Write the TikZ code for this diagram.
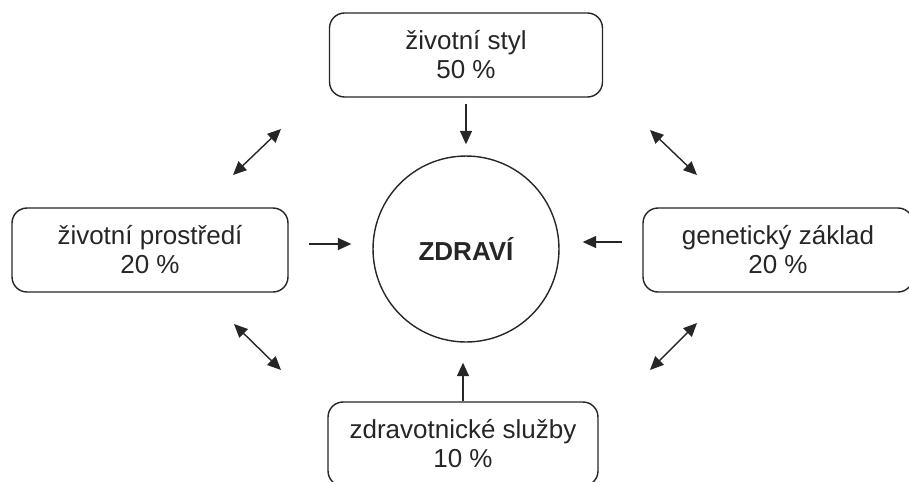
\documentclass[tikz,border=0pt]{standalone}
\usepackage{fontspec}
\setmainfont{Liberation Sans}
\usetikzlibrary{arrows.meta}

\begin{document}
\begin{tikzpicture}[x=0.02cm, y=-0.02cm, line width=0.8pt, draw=black!85,
    arr/.style={-{Triangle[length=0.27cm,width=0.24cm]}},
    darr/.style={{Triangle[length=0.27cm,width=0.24cm]}-{Triangle[length=0.27cm,width=0.24cm]}}]

        \useasboundingbox (0,0) rectangle (909,481);

        \begin{scope}[every node/.style={draw, rounded corners=0.3cm, minimum height=1.68cm,
            align=center, text=black!85, font=\fontsize{14.8}{16.5}\selectfont}]
          \node[minimum width=5.46cm] (styl)  at (466,55)  {životní styl\\50 \%};
          \node[minimum width=5.52cm] (prost) at (150,250) {životní prostředí\\20 \%};
          \node[minimum width=5.4cm]  (gen)   at (778,250) {genetický základ\\20 \%};
          \node[minimum width=5.4cm]  (sluz)  at (463,444) {zdravotnické služby\\10 \%};
        \end{scope}

        \node[draw, circle, minimum size=3.72cm, text=black!85,
          font=\fontsize{14.8}{16.5}\selectfont\bfseries] (zdr) at (466,249) {ZDRAVÍ};

        \begin{scope}[draw=black!85]
          \draw[arr, shorten <=0.12cm, shorten >=0.22cm] (styl.south) -- (zdr.north);
          \draw[arr, shorten >=0.4cm] (sluz.north) -- (sluz.north |- zdr.south);
          \draw[arr, shorten <=0.4cm, shorten >=0.42cm]
            ([yshift=0.12cm]prost.east) -- ([yshift=0.12cm]prost.east -| zdr.west);
          \draw[arr, shorten <=0.4cm, shorten >=0.46cm]
            ([yshift=0.16cm]gen.west) -- ([yshift=0.16cm]gen.west -| zdr.east);
        \end{scope}

        % vazby mezi faktory
        \coordinate (ul1) at (233,175);
        \coordinate (ul2) at (281,129);
        \coordinate (ll1) at (234,324);
        \coordinate (ll2) at (281,370);
        \coordinate (ur1) at (650,130);
        \coordinate (ur2) at (697,175);
        \coordinate (lr1) at (650,370);
        \coordinate (lr2) at (697,323);
        \draw[darr] (ul1) -- (ul2);
        \draw[darr] (ll1) -- (ll2);
        \draw[darr] (ur1) -- (ur2);
        \draw[darr] (lr1) -- (lr2);

      \end{tikzpicture}
\end{document}
